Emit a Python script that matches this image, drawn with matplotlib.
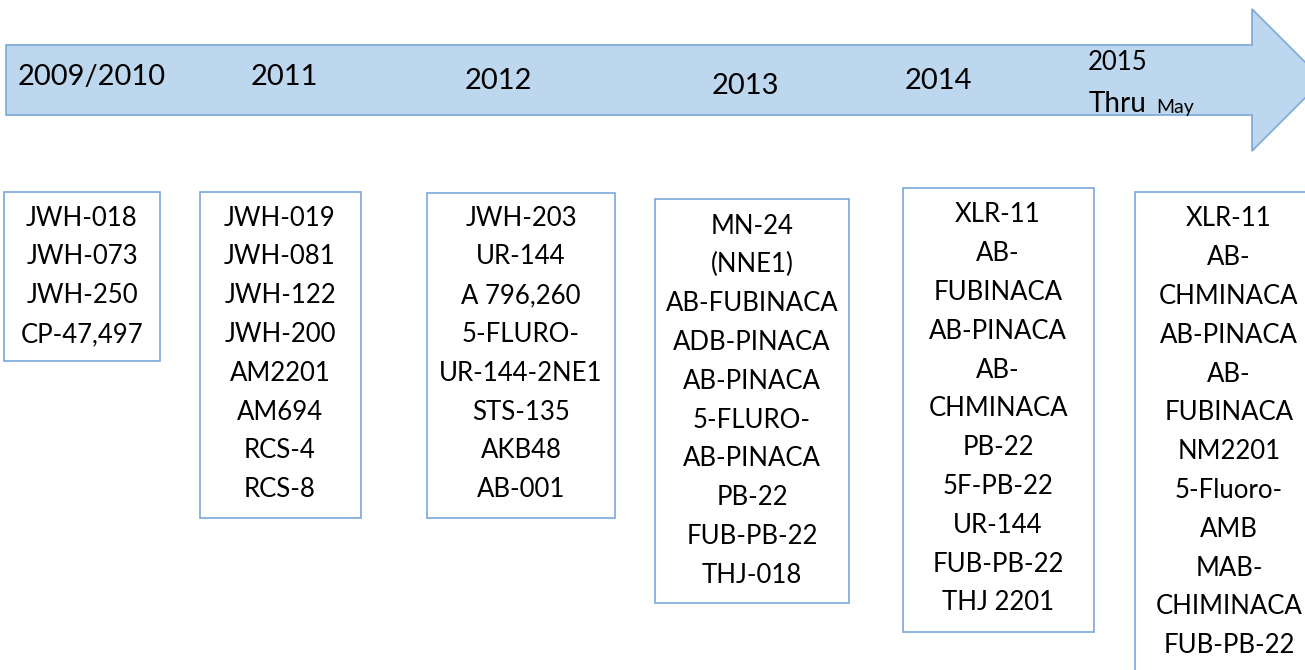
import matplotlib.pyplot as plt
from matplotlib.patches import Polygon, Rectangle

plt.rcParams['font.family'] = ['Lato', 'DejaVu Sans']

# years shown on the arrow
years = ["2009/2010", "2011", "2012", "2013", "2014", "2015"]

# compounds per year, one entry per printed line
compounds_2009 = ["JWH-018", "JWH-073", "JWH-250", "CP-47,497"]
compounds_2011 = ["JWH-019", "JWH-081", "JWH-122", "JWH-200", "AM2201", "AM694", "RCS-4", "RCS-8"]
compounds_2012 = ["JWH-203", "UR-144", "A 796,260", "5-FLURO-", "UR-144-2NE1", "STS-135", "AKB48", "AB-001"]
compounds_2013 = ["MN-24", "(NNE1)", "AB-FUBINACA", "ADB-PINACA", "AB-PINACA", "5-FLURO-",
                  "AB-PINACA", "PB-22", "FUB-PB-22", "THJ-018"]
compounds_2014 = ["XLR-11", "AB-", "FUBINACA", "AB-PINACA", "AB-", "CHMINACA", "PB-22", "5F-PB-22",
                  "UR-144", "FUB-PB-22", "THJ 2201"]
compounds_2015 = ["XLR-11", "AB-", "CHMINACA", "AB-PINACA", "AB-", "FUBINACA", "NM2201", "5-Fluoro-",
                  "AMB", "MAB-", "CHIMINACA", "FUB-PB-22"]
compound_lists = [compounds_2009, compounds_2011, compounds_2012, compounds_2013, compounds_2014, compounds_2015]

W, H = 1305, 670
fig = plt.figure(figsize=(W / 100, H / 100), dpi=100)
ax = fig.add_axes([0, 0, 1, 1])
ax.set_xlim(0, W)
ax.set_ylim(H, 0)
ax.axis('off')

fill = '#bdd7ee'
edge = '#7aa7d9'

# arrow (body + head), goes off the right edge
arrow = Polygon([(6, 45), (1252, 45), (1252, 9), (1323, 80), (1252, 151), (1252, 115), (6, 115)],
                closed=True, facecolor=fill, edgecolor=edge, lw=1.2)
ax.add_patch(arrow)

# year labels (x center, y center)
year_pos = [(92, 77), (284, 77), (498, 81), (745, 86), (938, 81)]
for (x, y), yr in zip(year_pos, years[:5]):
    ax.text(x, y, yr, fontsize=21, ha='center', va='center')
ax.text(1088, 62, years[5], fontsize=18.5, ha='left', va='center')
ax.text(1089, 104, "Thru", fontsize=20, ha='left', va='center')
ax.text(1156, 108, "May", fontsize=14, ha='left', va='center')

# boxes: x0, y0, x1, y1, text center x, first line y
boxes = [
    (4, 192, 160, 361, 82, 218),
    (200, 192, 361, 518, 280, 218),
    (427, 193, 615, 518, 521, 218),
    (655, 199, 849, 603, 752, 226),
    (903, 188, 1094, 632, 998, 215),
    (1135, 192, 1340, 700, 1229, 219),
]
step = 38.8
for (x0, y0, x1, y1, cx, ty), items in zip(boxes, compound_lists):
    ax.add_patch(Rectangle((x0, y0), x1 - x0, y1 - y0, facecolor='white', edgecolor=edge, lw=1.2))
    for i, name in enumerate(items):
        ax.text(cx, ty + i * step, name, fontsize=18.5, ha='center', va='center')

fig.savefig('out.png', dpi=100)
